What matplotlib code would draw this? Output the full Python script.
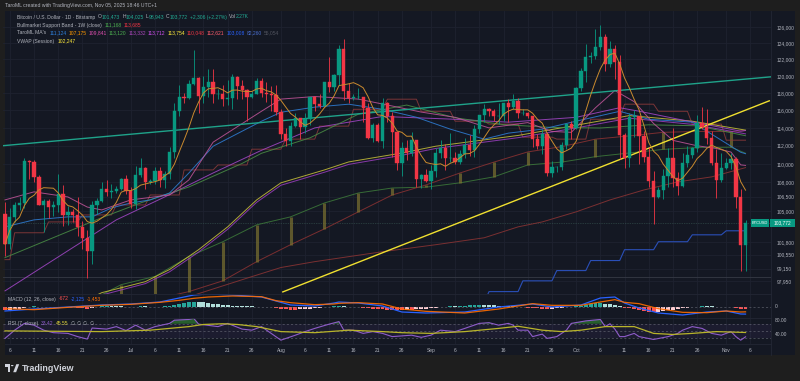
import numpy as np
import pandas as pd
import matplotlib
matplotlib.use("Agg")
import matplotlib.pyplot as plt
from matplotlib.patches import Rectangle, Polygon, Circle
from matplotlib.ticker import FixedLocator, FixedFormatter, NullLocator

plt.rcParams['font.family'] = ['Liberation Sans', 'DejaVu Sans']

# ---------------- data (BTC/USD daily, thousands of USD) ----------------
start_date = '2025-06-05'
open_k = [104.7,101.6,104.4,105.6,105.8,110.3,110.2,108.6,105.6,106.0,105.4,105.6,106.8,104.6,104.9,104.6,103.3,102.2,100.9,105.6,106.0,107.3,107.0,107.1,107.3,108.4,
          107.1,105.7,108.8,109.6,108.0,108.2,109.2,108.3,108.9,111.3,115.9,117.5,117.4,119.1,119.8,117.7,118.7,119.3,117.9,117.9,117.3,117.4,119.9,118.8,118.4,117.6,117.9,119.4,118.0,117.9,117.8,
          115.8,113.3,112.5,114.2,115.1,114.1,115.0,117.5,116.7,116.5,119.3,118.7,120.1,123.3,118.3,117.4,117.5,117.5,116.3,112.9,114.3,112.5,116.9,115.4,113.5,110.1,111.8,111.2,112.6,108.4,108.8,
          108.2,109.2,111.2,111.7,110.7,110.7,110.2,111.1,112.1,111.5,113.9,115.5,116.1,115.9,115.3,115.4,116.8,116.4,117.1,115.7,115.7,115.3,112.7,112.0,113.3,109.0,109.7,109.7,112.1,114.4,
          114.0,118.6,120.6,122.3,122.4,123.5,124.7,121.4,123.3,121.7,113.2,110.7,115.2,115.3,113.1,110.8,108.2,106.5,107.2,108.7,110.6,108.5,107.6,110.1,111.0,111.7,114.6,114.1,112.9,110.1,108.3,
          109.6,110.1,110.5,106.5,101.473]
high_k = [105.9,105.3,105.9,106.5,110.6,110.4,110.4,108.8,106.2,106.2,106.0,108.9,107.7,105.5,105.2,106.5,104.0,103.0,106.0,106.3,108.0,108.3,107.8,107.6,108.5,108.8,
          107.5,109.8,110.6,109.7,108.4,109.7,109.7,109.2,111.9,116.8,118.9,118.0,119.5,123.2,119.9,120.0,120.8,120.9,118.5,118.9,119.6,120.2,120.0,119.5,118.5,118.3,119.8,119.8,119.3,118.8,118.9,
          116.1,114.0,114.7,115.7,115.1,115.7,117.6,117.7,117.9,119.3,122.3,120.3,123.7,124.5,119.2,117.9,118.6,117.6,116.8,114.6,114.6,117.4,117.0,115.8,113.6,112.4,112.6,113.5,112.6,108.9,109.5,
          109.9,111.8,112.6,112.2,113.4,111.3,111.5,112.9,113.2,114.3,115.5,116.7,116.3,116.1,116.8,116.9,117.3,117.9,117.4,116.2,115.8,115.4,113.3,113.9,113.5,110.3,109.8,112.4,114.4,114.8,
          118.7,121.0,123.9,122.9,125.7,126.2,125.1,124.2,123.8,122.5,113.4,115.7,116.0,115.4,113.6,111.9,109.2,107.5,109.4,111.7,114.0,109.1,111.2,112.0,111.9,115.5,116.4,116.1,113.6,111.6,111.2,
          110.6,111.2,110.8,107.3,104.025]
low_k = [100.4,101.1,103.9,105.1,105.3,108.4,108.0,105.6,102.8,104.3,104.5,104.9,103.4,103.5,103.9,102.4,101.1,98.2,99.6,104.7,105.9,106.6,106.4,106.9,107.2,106.8,
         105.3,105.2,108.6,107.3,107.8,107.8,107.5,107.4,108.4,110.6,115.3,116.9,117.3,118.9,115.7,116.9,117.5,116.9,117.3,116.5,116.6,116.2,117.3,117.3,114.8,117.4,117.9,117.5,117.0,115.9,115.5,
         112.7,112.0,112.0,114.1,112.7,113.4,114.3,115.9,116.3,116.5,118.1,118.2,118.9,117.2,116.8,117.2,117.3,114.7,112.7,112.4,112.4,111.7,114.7,110.8,109.3,108.7,110.4,110.9,107.5,107.4,108.1,
         107.3,108.6,110.6,109.3,110.2,110.0,110.0,110.7,110.9,110.8,113.4,114.7,115.3,114.8,114.4,114.8,114.7,116.2,115.1,115.5,115.1,111.9,111.6,111.1,108.7,108.6,109.1,109.3,111.6,112.7,
         113.9,118.3,119.3,121.6,122.1,123.1,120.6,121.1,119.7,110.5,109.6,109.7,113.0,110.0,110.2,107.5,103.6,106.3,106.2,107.5,107.5,106.7,107.5,109.7,110.6,111.3,113.9,112.2,109.9,106.3,108.0,
         109.4,109.5,105.3,98.9,98.943]
close_k = [101.6,104.4,105.6,105.8,110.3,110.2,108.6,105.6,106.0,105.4,105.6,106.8,104.6,104.9,104.6,103.3,102.2,100.9,105.6,106.0,107.3,107.0,107.1,107.3,108.4,107.1,
           105.7,108.8,109.6,108.0,108.2,109.2,108.3,108.9,111.3,115.9,117.5,117.4,119.1,119.8,117.7,118.7,119.3,117.9,117.9,117.3,117.4,119.9,118.8,118.4,117.6,117.9,119.4,118.0,117.9,117.8,115.8,
           113.3,112.5,114.2,115.1,114.1,115.0,117.5,116.7,116.5,119.3,118.7,120.1,123.3,118.3,117.4,117.5,117.5,116.3,112.9,114.3,112.5,116.9,115.4,113.5,110.1,111.8,111.2,112.6,108.4,108.8,108.2,
           109.2,111.2,111.7,110.7,110.7,110.2,111.1,112.1,111.5,113.9,115.5,116.1,115.9,115.3,115.4,116.8,116.4,117.1,115.7,115.7,115.3,112.7,112.0,113.3,109.0,109.7,109.7,112.1,114.4,114.0,
           118.6,120.6,122.3,122.4,123.5,124.7,121.4,123.3,121.7,113.2,110.7,115.2,115.3,113.1,110.8,108.2,106.5,107.2,108.7,110.6,108.5,107.6,110.1,111.0,111.7,114.6,114.1,112.9,110.1,108.3,109.6,
           110.1,110.5,106.5,101.5,103.772]

# trend lines (day offset from start, price k)
teal_tl_d = [-1, 158.3]
teal_tl_v = [111.98, 119.92]
yellow_tl_d = [57.4, 157.9]
yellow_tl_v = [96.9, 117.1]

# Bullmarket support band (weekly points)
bmsb_d = [17,24,31,38,45,52,59,66,73,80,87,94,101,108,115,122,129,136,143,150,153]
bmsb_green = [95.9,97.6,98.4,100.35,101.84,103.56,104.38,105.83,106.88,107.41,107.5,107.96,108.6,109.89,110.2,110.8,111.2,111.6,111.8,111.84,111.17]
bmsb_red = [94.5,95.3,96.2,96.93,97.97,99.85,101.54,103.15,104.9,106.67,107.74,109.02,110.2,111.32,111.9,112.74,113.1,113.5,113.6,113.6,113.69]

# moving averages
blue_d = [0,6,13,18,22,26,30,34,38,43,49,53,57,64,71,78,85,92,99,104,111,118,127,133,142,152,153]
blue_v = [103.35,104.07,104.38,104.38,105.31,105.83,106.15,106.88,109.02,111.95,113.63,114.76,115.78,116.37,116.71,116.12,115.21,113.86,112.74,113.41,113.86,114.76,115.89,114.98,114.65,111.28,111.12]
pink_d = [0,6,13,17,20,26,34,38,43,53,57,64,73,80,86,93,100,108,113,117,122,126,130,134,138,143,147,150,152,153]
pink_v = [106.15,107.0,106.46,105.4,105.1,106.15,106.67,108.28,112.4,115.9,117.3,117.6,117.3,116.5,115.8,115.2,114.0,114.6,113.6,113.5,116.3,118.3,117.0,114.5,112.6,112.0,111.7,111.3,109.9,109.84]
green_d = [0,20,28,38,49,53,63,73,83,93,103,113,123,133,143,153]
green_v = [100.25,104.3,105.83,107.52,110.06,111.17,112.88,115.56,116.61,115.15,114.37,114.05,113.99,114.35,114.24,113.12]
mag_d = [0,23,33,43,53,64,78,92,104,118,127,131,139,152,153]
mag_v = [97.0,104.07,106.46,109.02,111.5,114.0,115.3,115.0,114.65,115.2,116.3,115.9,115.0,113.63,113.71]
pair_d = [14,20,29,34,40,46,52,57,66,71,82,89,106,118,129,142,153]
yel_v = [95.5,96.83,97.89,99.07,101.04,103.35,106.15,107.96,109.35,110.22,111.2,111.95,113.15,114.3,115.4,114.76,113.75]
pur_v = [95.3,96.6,97.7,98.85,100.8,103.1,105.9,107.7,109.1,109.95,110.95,111.7,112.9,114.0,115.1,114.4,113.33]
ma200_d = [35,51,57,64,78,89,99,106,111,118,125,132,139,146,153]
ma200_v = [96.0,98.38,99.27,99.85,100.84,101.54,102.24,103.35,103.86,104.9,106.15,107.2,108.06,108.6,109.6]
bluew_d = [93,100,107,114,121,128,135,142,149]
bluew_v = [95.9,96.93,97.97,98.97,99.96,101.04,101.84,102.54,102.95]
maroon_d = [0,2,9,16,23,30,37,44,51,58,65,72,79,86,93,100,107,114,121,128,135,142,149]
maroon_v = [100.05,102.75,103.86,104.58,105.62,106.67,109.35,109.89,111.62,112.74,114.2,116.12,117.29,115.89,114.76,114.43,112.96,112.74,114.98,116.71,115.89,114.43,112.62]

macd_d = [0,6,13,20,26,32,36,39,42,47,53,56,59,64,68,69,73,78,82,87,95,102,109,113,119,123,126,128,131,135,140,145,149,152,153]
macd_v = [-1200,-600,0,600,900,1500,2700,3600,3900,3600,3000,1800,600,300,1200,1500,1200,300,-1500,-1800,-1500,0,900,0,600,2700,3000,1200,-300,-1800,-2400,-1500,-1200,-2100,-2125]
signal_v = [-500,-800,-100,500,800,1400,2000,2600,3000,3300,3100,1900,1300,700,900,1100,1300,900,-600,-1300,-1800,-600,1000,500,500,1500,2200,1400,1000,-500,-1600,-1700,-1200,-1500,-1453]
hist_h = [-9,-8,-6,-5,-3, 1,2,1,0,-1,-1,-1,0,0,0, -2,-4,-6,-4,
          1,2,3,3,3,2,1,1,1,2,2,1,1,1,2, 4,7,10,13,15,16,15,14,12,10,
          8,6,5,4,3,3,2,2,1,1,0, -1,-3,-5,-7,-8,-8,-7,-6,-5,-3,-2,-1,
          1,2,3,2,1,0, -1,-2,-4,-5,-6,-7,-8,-8,-9, -9,-8,-8,-7,-6,-5,-3,-2,
          0,1,2,2,3,4,5,6,7,7, 6,5,4,4,3,2, 1,-1,-2,-3,-4,-5,-6, -5,-4,-3,-1,0,
          2,4,7,9,11,12, 10,9,7,3, -2,-3,-5,-8,-11,-14,-15,-14,-12,
          -10,-8,-6,-4,-3,-1,1, 2,2,2,1,0,0, -1,-3,-6,-6.72]

rsi_d = [0,2,4,6,8,10,13,15,17,18,21,23,25,27,29,31,34,35,38,39,40,44,46,49,51,53,55,57,60,62,64,67,69,70,72,74,76,78,80,82,
         84,86,88,90,93,95,98,100,102,104,105,106,108,109,111,112,114,116,117,120,123,124,125,126,127,128,130,131,134,137,139,140,142,144,146,148,150,151,152,153]
rsi_v = [29,52,71,66,52,45,43,34,27,58,55,62,51,66,52,62,71,80,82,85,69,62,71,55,52,62,43,24,38,48,57,69,76,52,52,43,48,43,34,36,
         38,32,38,52,48,57,71,73,66,71,66,52,52,34,41,29,34,52,71,78,82,62,70,55,34,34,43,34,26,34,43,52,62,57,43,38,48,34,24,33.42]
rsima_d = [0,20,30,38,41,45,48,52,57,64,71,78,82,88,95,102,106,111,115,119,124,130,134,138,142,147,153]
rsima_v = [50,48,52,62,68,70,68,62,48,45,52,48,45,43,48,57,63,52,48,52,62,62,43,40,43,48,45.55]

price_ticks = [97950,99150,100550,101800,105000,106500,108000,110000,112000,114000,116000,118000,120000,122000,124000,126000]
date_tick_str = ['2025-06-06','2025-06-11','2025-06-16','2025-06-21','2025-06-26','2025-07-01','2025-07-06','2025-07-11','2025-07-16','2025-07-21','2025-07-26',
                 '2025-08-01','2025-08-06','2025-08-11','2025-08-16','2025-08-21','2025-08-26','2025-09-01','2025-09-06','2025-09-11','2025-09-16','2025-09-21','2025-09-26',
                 '2025-10-01','2025-10-06','2025-10-11','2025-10-16','2025-10-21','2025-10-26','2025-11-01','2025-11-06']
date_tick_lab = ['6','11','16','21','26','Jul','6','11','16','21','26','Aug','6','11','16','21','26','Sep','6','11','16','21','26','Oct','6','11','16','21','26','Nov','6']

# ---------------- figure ----------------
W, H, DPI = 800, 381, 100
BG = '#141823'
GRID = '#1e2230'
TXT = '#b2b5be'
UP, DN = '#089981', '#f23645'

fig = plt.figure(figsize=(W / DPI, H / DPI), dpi=DPI, facecolor='#1e1e1e')

def fx(px):
    return px / W

def fy(py):
    return 1 - py / H

fig.patches.append(Rectangle((fx(5), fy(355)), fx(795) - fx(5), fy(11) - fy(355),
                             transform=fig.transFigure, facecolor=BG, edgecolor='none', zorder=-10))

start = pd.Timestamp(start_date)
n = len(close_k)
days = np.arange(n)
tick_days = [(pd.Timestamp(s) - start).days for s in date_tick_str]
XL, XR = -0.41, 158.26
PL, PR = 3, 771

def make_ax(top, bottom):
    ax = fig.add_axes([fx(PL), fy(bottom), fx(PR) - fx(PL), fy(top) - fy(bottom)])
    ax.set_facecolor('none')
    for s in ax.spines.values():
        s.set_visible(False)
    ax.set_xlim(XL, XR)
    ax.set_xticks(tick_days)
    ax.set_xticklabels([])
    ax.tick_params(axis='x', length=0)
    ax.grid(True, axis='x', color=GRID, lw=0.6)
    ax.set_axisbelow(True)
    return ax

# ---------- main pane ----------
ax = make_ax(11, 294)
ax.set_yscale('log')
ax.set_ylim(96700, 128000)
ax.yaxis.set_major_locator(FixedLocator(price_ticks))
ax.yaxis.set_major_formatter(FixedFormatter([f"{t:,}" for t in price_ticks]))
ax.yaxis.set_minor_locator(NullLocator())
ax.yaxis.tick_right()
ax.tick_params(axis='y', length=0, pad=4, labelsize=3.5, labelcolor=TXT)
ax.grid(True, axis='y', color=GRID, lw=0.6)

def K(v):
    return np.asarray(v, dtype=float) * 1000

LW = 0.7
AL = 0.85

# faint horizontal level + last price line
ax.axhline(98300, color='#363a45', lw=0.6, zorder=1)
ax.axhline(close_k[-1] * 1000, color='#3a5a55', lw=0.5, ls=(0, (1, 1.5)), zorder=1)

# Bullmarket support band
ax.plot(bmsb_d, K(bmsb_green), color='#3d7a3a', lw=LW, alpha=AL, zorder=2)
ax.plot(bmsb_d, K(bmsb_red), color='#8c3232', lw=LW, alpha=AL, zorder=2)
ax.vlines(bmsb_d[:-1], K(bmsb_red[:-1]), K(bmsb_green[:-1]), colors='#7d7330', lw=2.2, alpha=0.7, zorder=2)

# long MA (200D) and weekly step lines
ax.plot(ma200_d, K(ma200_v), color='#8c3434', lw=LW, alpha=AL, zorder=2)

def step_pts(d, v, last):
    xs, ys = [], []
    for i in range(len(d)):
        end = d[i + 1] - 1 if i + 1 < len(d) else last
        xs += [d[i], end]
        ys += [v[i], v[i]]
    return xs, K(ys)

sx, sy = step_pts(bluew_d, bluew_v, n - 1)
ax.plot(sx, sy, color='#2a4fb8', lw=0.8, zorder=2)
sx, sy = step_pts(maroon_d, maroon_v, n - 1)
ax.plot(sx, sy, color='#8e3a3a', lw=LW, alpha=AL, zorder=2)

# MA ribbon
ax.plot(pair_d, K(pur_v), color='#9c3fc0', lw=LW, alpha=AL, zorder=3)
ax.plot(pair_d, K(yel_v), color='#c9c03a', lw=LW, alpha=AL, zorder=3)
ax.plot(mag_d, K(mag_v), color='#a447c9', lw=LW, alpha=AL, zorder=3)
ax.plot(green_d, K(green_v), color='#4a8f45', lw=LW, alpha=AL, zorder=3)
ax.plot(blue_d, K(blue_v), color='#2f7fd8', lw=LW, alpha=AL, zorder=3)
ax.plot(pink_d, K(pink_v), color='#c2559a', lw=LW, alpha=AL, zorder=3)

# trend lines
ax.plot(teal_tl_d, K(teal_tl_v), color='#1fa38a', lw=1.0, zorder=4)
ax.plot(yellow_tl_d, K(yellow_tl_v), color='#f0e030', lw=1.0, zorder=4)

# candles
o, h, l, c = K(open_k), K(high_k), K(low_k), K(close_k)
cols = np.where(c >= o, UP, DN)
ax.vlines(days, l, h, colors=cols, lw=0.6, zorder=5)
lo = np.minimum(o, c)
hi = np.maximum(o, c)
ax.bar(days, hi - lo, bottom=lo, width=0.68, color=cols, edgecolor=cols, lw=0.3, zorder=6)

# orange fast MA (7-period mean of closes)
sma7 = pd.Series(c).rolling(7, min_periods=1).mean()
ax.plot(days, sma7, color='#c98a2e', lw=LW, zorder=7)

# ---------- MACD pane ----------
axm = make_ax(294, 318)
axm.set_ylim(-3300, 3900)
axm.set_yticks([])
axm.axhline(0, color='#787b86', lw=0.5, ls=(0, (3, 3)), alpha=0.7)
hv = np.array(hist_h, dtype=float) * 100
hcols = []
for i, v in enumerate(hv):
    prev = hv[i - 1] if i > 0 else v + 1
    if v >= 0:
        hcols.append('#26a69a' if v > prev else '#b2dfdb')
    else:
        hcols.append('#ffcdd2' if v > prev else '#ff5252')
axm.bar(days, hv, width=0.8, color=hcols, lw=0)
axm.plot(macd_d, macd_v, color='#2962ff', lw=0.9)
axm.plot(macd_d, signal_v, color='#ff6d00', lw=0.9, alpha=0.9)

# ---------- RSI pane ----------
axr = make_ax(318, 344)
axr.set_ylim(13.3, 86.1)
axr.set_yticks([])
axr.axhspan(30, 70, color='#7e57c2', alpha=0.08, lw=0)
for lev in (70, 50, 30):
    axr.axhline(lev, color='#787b86', lw=0.5, ls=(0, (3, 3)), alpha=0.7)
rv = np.array(rsi_v, dtype=float)
axr.fill_between(rsi_d, rv, 70, where=rv > 70, interpolate=True, color='#2e7d32', alpha=0.7, lw=0)
axr.plot(rsi_d, rv, color='#8e5cc9', lw=0.8)
axr.plot(rsima_d, rsima_v, color='#b8b42a', lw=0.9)
axr.set_xticklabels(date_tick_lab)
axr.tick_params(axis='x', length=0, pad=3, labelsize=3.5, labelcolor=TXT)

# right scale labels for sub-panes
fig.text(fx(775), fy(307), '0', color=TXT, fontsize=3.5, va='center')
fig.text(fx(775), fy(320.5), '80.00', color=TXT, fontsize=3.5, va='center')
fig.text(fx(775), fy(334.3), '40.00', color=TXT, fontsize=3.5, va='center')
# separators
fig.add_artist(plt.Line2D([fx(771), fx(771)], [fy(11), fy(355)], color='#232734', lw=0.6))
for yy in (294, 318, 344):
    fig.add_artist(plt.Line2D([fx(5), fx(771)], [fy(yy), fy(yy)], color='#232734', lw=0.6))

# last price boxes
fig.patches.append(Rectangle((fx(751), fy(226.5)), fx(18), fy(0) - fy(8), transform=fig.transFigure,
                             facecolor=UP, edgecolor='none', zorder=10))
fig.patches.append(Rectangle((fx(770), fy(226.5)), fx(25), fy(0) - fy(8), transform=fig.transFigure,
                             facecolor=UP, edgecolor='none', zorder=10))
fig.text(fx(760), fy(222.5), 'BTCUSD', color='white', fontsize=2.9, ha='center', va='center', zorder=11)
fig.text(fx(782.5), fy(222.5), '103,772', color='white', fontsize=3.5, ha='center', va='center', zorder=11)

# ---------- texts ----------
fig.canvas.draw()
rend = fig.canvas.get_renderer()

def runs(x, y, parts, size):
    for txt, col, gap in parts:
        t = fig.text(fx(x), fy(y), txt, color=col, fontsize=size, ha='left', va='center')
        x += t.get_window_extent(renderer=rend).width + gap

TEAL = '#22ab94'
runs(5, 6, [("TaroML created with TradingView.com, Nov 05, 2025 18:46 UTC+1", TXT, 0)], 3.7)
runs(17, 17, [("Bitcoin / U.S. Dollar · 1D · Bitstamp", TXT, 3), ("O", TXT, 0), ("101,473", TEAL, 2),
              ("H", TXT, 0), ("104,025", TEAL, 2), ("L", TXT, 0), ("98,943", TEAL, 2),
              ("C", TXT, 0), ("103,772", TEAL, 2), ("+2,306 (+2.27%)", TEAL, 2),
              ("Vol", TXT, 0), ("2.27K", TEAL, 0)], 3.6)
runs(17, 25, [("Bullmarket Support Band - 1W (close)", TXT, 3), ("111,168", '#4caf50', 2), ("113,685", '#f23645', 0)], 3.6)
runs(17, 33, [("TaroML MA's", TXT, 3), ("111,124", '#2f7fd8', 2), ("107,175", '#ff9800', 2), ("109,841", '#e04fb0', 2),
              ("113,120", '#4caf50', 2), ("113,332", '#ab47bc', 2), ("113,712", '#d050f0', 2), ("113,754", '#ffeb3b', 2),
              ("110,048", '#f23645', 2), ("112,621", '#ff5d6c', 2), ("103,008", '#2962ff', 2), ("82,260", '#4a6fd0', 2),
              ("55,054", '#50535e', 0)], 3.6)
runs(17, 41, [("VWAP (Session)", TXT, 3), ("102,247", '#ffeb3b', 0)], 3.6)
runs(8, 299, [("MACD (12, 26, close)", TXT, 3), ("-672", '#ff5252', 2), ("-2,125", '#2962ff', 2), ("-1,453", '#ff6d00', 0)], 3.6)
runs(8, 323.5, [("RSI (7, close)", TXT, 3), ("33.42", '#8e5cc9', 2), ("45.55", '#e0d43a', 2),
                ("∅", TXT, 2), ("∅", TXT, 2), ("∅", TXT, 2), ("∅", TXT, 0)], 3.6)

# TradingView logo
LOGO = '#d1d4dc'
fig.patches.append(Rectangle((fx(5), fy(366.8)), fx(5.2), fy(0) - fy(2.6), transform=fig.transFigure, facecolor=LOGO, edgecolor='none'))
fig.patches.append(Rectangle((fx(7.6), fy(372.2)), fx(2.6), fy(0) - fy(8.0), transform=fig.transFigure, facecolor=LOGO, edgecolor='none'))
fig.patches.append(Circle((fx(12.2), fy(365.6)), fx(1.3), transform=fig.transFigure, facecolor=LOGO, edgecolor='none'))
fig.patches.append(Polygon([(fx(13.2), fy(372.2)), (fx(16.3), fy(364.2)), (fx(19.2), fy(364.2)), (fx(16.1), fy(372.2))],
                           closed=True, transform=fig.transFigure, facecolor=LOGO, edgecolor='none'))
fig.text(fx(22), fy(368.3), 'TradingView', color=LOGO, fontsize=6.4, fontweight='bold', ha='left', va='center')

fig.savefig('out.png', dpi=DPI, facecolor=fig.get_facecolor())
